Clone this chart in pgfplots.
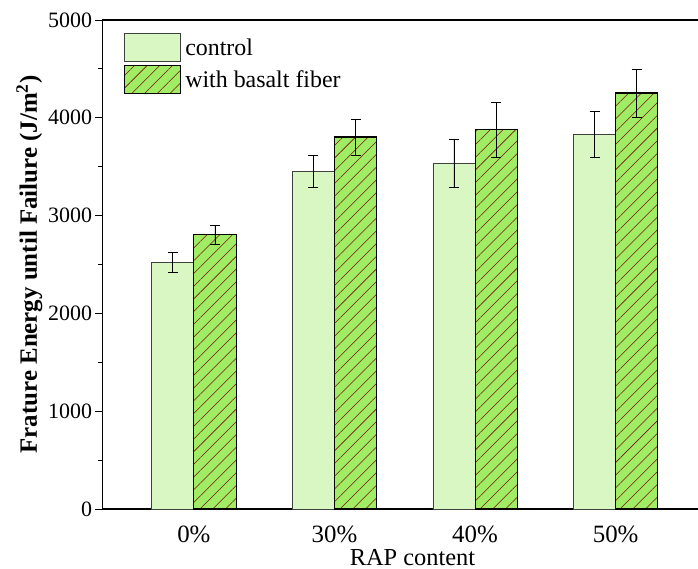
\documentclass[border=0pt]{standalone}
\usepackage{pgfplots}
\pgfplotsset{compat=1.18}
\usepackage{fontspec}
\setmainfont{Liberation Serif}
\usetikzlibrary{patterns.meta}

\definecolor{ctrlfill}{RGB}{217,247,195}
\definecolor{fibfill}{RGB}{160,236,100}
\definecolor{hatch}{RGB}{115,20,10}

\begin{document}
\begin{tikzpicture}
\begin{axis}[
  name=ax,
  scale only axis,
  width=620bp, height=489bp,
  xmin=-0.65, xmax=3.76,
  ymin=0, ymax=5000,
  xtick=data,
  xticklabels={0\%,30\%,40\%,50\%},
  xtick style={draw=none},
  ytick={0,1000,2000,3000,4000,5000},
  minor y tick num=1,
  ytick pos=left,
  tick align=outside,
  major tick length=7bp,
  minor tick length=4bp,
  every tick/.style={black, line width=0.8bp},
  axis line style={line width=1.2bp},
  yticklabel style={font=\fontsize{22}{26}\selectfont},
  xticklabel style={font=\fontsize{25}{29}\selectfont, anchor=base, yshift=-26bp},
  /pgf/number format/assume math mode=true,
  /pgf/number format/1000 sep={},
  xlabel={RAP content},
  ylabel={\bfseries Frature Energy until Failure (J/m$^{\mathbf{2}}$)},
  xlabel style={font=\fontsize{24.5}{28}\selectfont,
    at={(axis description cs:0.5,0)}, anchor=base, yshift=-56bp},
  ylabel style={font=\fontsize{25}{29}\selectfont, yshift=-1bp},
  ybar,
  bar width=0.3,
  legend style={draw=none, fill=none,
    at={(rel axis cs:0,1)}, anchor=north west, xshift=21.5bp, yshift=-13bp,
    font=\fontsize{24}{28}\selectfont, row sep=3bp, inner sep=0pt,
    nodes={inner sep=0pt, outer sep=0pt}},
  legend cell align=left,
  legend image code/.code={\draw[#1] (0bp,-14bp) rectangle (56bp,14bp);},
]
\addplot[bar shift=-0.15, fill=ctrlfill, draw=black!75, line width=0.7bp,
  error bars/.cd, y dir=both, y explicit,
  error bar style={black, line width=0.7bp},
  error mark options={black, line width=0.7bp, rotate=90, mark size=5bp}]
coordinates {
  (0,2520) +- (0,100)
  (1,3456) +- (0,165)
  (2,3538) +- (0,245)
  (3,3834) +- (0,235)
};
\addlegendentry{\,control}
\addplot[bar shift=0.15, fill=fibfill, draw=black, line width=1.1bp,
  postaction={pattern={Lines[angle=45,distance=9bp,line width=0.55bp]}, pattern color=hatch},
  error bars/.cd, y dir=both, y explicit,
  error bar style={black, line width=0.7bp},
  error mark options={black, line width=0.7bp, rotate=90, mark size=5bp}]
coordinates {
  (0,2805) +- (0,95)
  (1,3804) +- (0,184)
  (2,3880) +- (0,280)
  (3,4254) +- (0,245)
};
\addlegendentry{\,with basalt fiber}
\end{axis}
\pgfresetboundingbox
\path (ax.south west) ++(-102.5bp,-60bp) coordinate (bbl);
\path (ax.north west) ++(595.5bp,20bp) coordinate (btr);
\path[use as bounding box] (bbl) rectangle (btr);
\end{tikzpicture}
\end{document}
